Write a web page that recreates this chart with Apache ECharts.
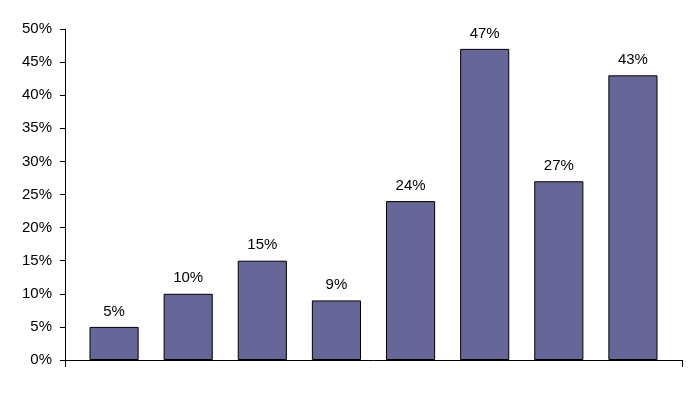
<!DOCTYPE html>
<html>
<head>
<meta charset="utf-8">
<script src="https://cdn.jsdelivr.net/npm/echarts@6/dist/echarts.min.js"></script>
<style>
  html, body { margin: 0; padding: 0; background: #fff; }
  #chart { width: 697px; height: 399px; }
</style>
</head>
<body>
<div id="chart"></div>
<script>
const categories = ['A', 'B', 'C', 'D', 'E', 'F', 'G', 'H']
const values = [5, 10, 15, 9, 24, 47, 27, 43]
const yTicks = [0, 5, 10, 15, 20, 25, 30, 35, 40, 45, 50]

const font = 'Liberation Sans, Arial, sans-serif'
const chart = echarts.init(document.getElementById('chart'))

// bars sit in an inner grid, the frame (axis lines) in an outer one
const option = {
  animation: false,
  grid: [
    { left: 77, right: 27, top: 29, bottom: 39 },
    { left: 65, right: 15, top: 29, bottom: 39 }
  ],
  xAxis: [
    {
      type: 'category',
      gridIndex: 0,
      data: categories,
      axisLine: { show: false },
      axisTick: { show: false },
      axisLabel: { show: false }
    },
    {
      type: 'value',
      gridIndex: 1,
      min: 0,
      max: 1,
      interval: 1,
      axisLine: { show: true, lineStyle: { color: '#000', width: 1 } },
      axisTick: { show: true, length: 7, lineStyle: { color: '#000' } },
      axisLabel: { show: false },
      splitLine: { show: false }
    }
  ],
  yAxis: [
    {
      type: 'value',
      gridIndex: 0,
      offset: 12,
      min: yTicks[0],
      max: yTicks[yTicks.length - 1],
      interval: 5,
      axisLine: { show: true, lineStyle: { color: '#000', width: 1 } },
      axisTick: { show: true, length: 5, lineStyle: { color: '#000' } },
      axisLabel: {
        color: '#000',
        fontFamily: font,
        fontSize: 15,
        margin: 13,
        formatter: '{value}%'
      },
      splitLine: { show: false }
    },
    {
      type: 'value',
      gridIndex: 1,
      show: false
    }
  ],
  series: [
    {
      type: 'bar',
      xAxisIndex: 0,
      yAxisIndex: 0,
      data: values,
      barCategoryGap: '33.7%',
      itemStyle: {
        color: '#666699',
        borderColor: '#000',
        borderWidth: 1
      },
      label: {
        show: true,
        position: 'top',
        distance: 8,
        color: '#000',
        fontFamily: font,
        fontSize: 15,
        formatter: '{c}%'
      }
    }
  ]
}
chart.setOption(option)
</script>
</body>
</html>
